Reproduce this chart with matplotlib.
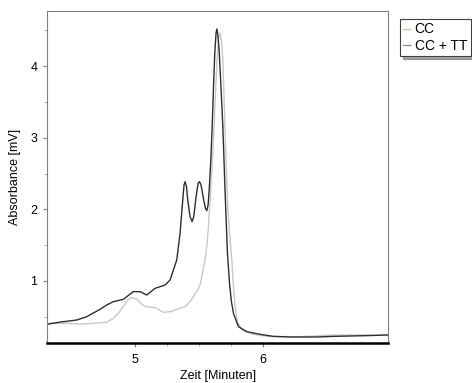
import matplotlib.pyplot as plt
from matplotlib.ticker import MultipleLocator, FixedLocator

plt.rcParams['font.family'] = ['Liberation Sans', 'DejaVu Sans']
plt.rcParams['font.size'] = 9

# CC + TT trace (time in min, absorbance in mV)
t_cctt = [4.315, 4.404, 4.547, 4.625, 4.729, 4.781, 4.833, 4.911, 4.964, 4.990,
          5.042, 5.094, 5.159, 5.237, 5.276, 5.302, 5.328, 5.354, 5.375, 5.385,
          5.393, 5.404, 5.414, 5.432, 5.448, 5.461, 5.479, 5.495, 5.505, 5.518,
          5.536, 5.552, 5.563, 5.573, 5.583, 5.594, 5.604, 5.615, 5.625, 5.635,
          5.641, 5.648, 5.659, 5.672, 5.688, 5.706, 5.724, 5.740, 5.755, 5.771,
          5.810, 5.875, 5.979, 6.083, 6.214, 6.422, 6.552, 6.813, 6.979]
a_cctt = [0.395, 0.423, 0.455, 0.502, 0.604, 0.665, 0.711, 0.744, 0.818, 0.851,
          0.851, 0.804, 0.898, 0.944, 1.014, 1.154, 1.293, 1.666, 2.131, 2.341,
          2.387, 2.318, 2.131, 1.899, 1.829, 1.899, 2.178, 2.364, 2.387, 2.341,
          2.155, 2.015, 1.982, 2.061, 2.318, 2.690, 3.109, 3.714, 4.180, 4.459,
          4.520, 4.459, 4.226, 3.761, 3.156, 2.224, 1.386, 0.967, 0.711, 0.548,
          0.362, 0.292, 0.255, 0.227, 0.218, 0.218, 0.227, 0.237, 0.246]

# CC trace
t_cc = [4.315, 4.469, 4.573, 4.677, 4.729, 4.781, 4.833, 4.872, 4.911, 4.951,
        4.977, 5.016, 5.047, 5.081, 5.159, 5.224, 5.276, 5.328, 5.393, 5.432,
        5.458, 5.490, 5.510, 5.529, 5.549, 5.568, 5.589, 5.604, 5.615, 5.628,
        5.641, 5.654, 5.667, 5.677, 5.688, 5.698, 5.708, 5.724, 5.740, 5.758,
        5.771, 5.784, 5.802, 5.836, 5.927, 6.057, 6.292, 6.500, 6.708, 6.979]
a_cc = [0.409, 0.409, 0.399, 0.409, 0.418, 0.423, 0.479, 0.548, 0.642, 0.744,
        0.772, 0.744, 0.688, 0.642, 0.628, 0.562, 0.572, 0.604, 0.642, 0.711,
        0.781, 0.874, 0.944, 1.107, 1.293, 1.573, 2.131, 2.597, 2.969, 3.528,
        4.040, 4.366, 4.459, 4.366, 4.087, 3.528, 2.923, 2.131, 1.666, 1.293,
        0.921, 0.642, 0.432, 0.316, 0.255, 0.223, 0.223, 0.241, 0.246, 0.246]

fig = plt.figure(figsize=(4.72, 3.83), dpi=100)
ax = fig.add_axes([0.0996, 0.1044, 0.7228, 0.8669])

l_cc, = ax.plot(t_cc, a_cc, color='#c8c8c8', lw=1.0, label='CC')
l_tt, = ax.plot(t_cctt, a_cctt, color='#2e2e2e', lw=1.0, label='CC + TT')

ax.set_xlim(4.315, 6.979)
ax.set_ylim(0.134, 4.77)
ax.xaxis.set_major_locator(FixedLocator([5, 6]))
ax.xaxis.set_minor_locator(FixedLocator([5.25, 5.5, 5.75]))
ax.yaxis.set_major_locator(MultipleLocator(1))
ax.yaxis.set_minor_locator(FixedLocator([0.5, 1.5, 2.5, 3.5, 4.5]))

for s in ['top', 'right', 'left']:
    ax.spines[s].set_color('#808080')
    ax.spines[s].set_linewidth(0.8)
ax.spines['bottom'].set_color('black')
ax.spines['bottom'].set_linewidth(1.8)

ax.tick_params(which='major', length=3, width=0.8, color='#808080', pad=4)
ax.tick_params(which='minor', length=2, width=0.6, color='#a0a0a0')
ax.tick_params(axis='x', which='major', pad=5)

ax.set_xlabel('Zeit [Minuten]', labelpad=3)
ax.set_ylabel('Absorbance [mV]', labelpad=7)

# legend handles in the legend's own colours
h_cc = plt.Line2D([], [], color='#c8c8a8', lw=1.0)
h_tt = plt.Line2D([], [], color='#909090', lw=1.0)
leg = fig.legend(handles=[h_cc, h_tt], labels=[l_cc.get_label(), l_tt.get_label()],
                 loc='upper left', bbox_to_anchor=(400 / 472, 1 - 19 / 383),
                 frameon=True, fancybox=False, shadow=True, fontsize=10,
                 handlelength=0.5, handletextpad=0.3, borderpad=0.25,
                 labelspacing=0.15, borderaxespad=0)
leg.get_frame().set_edgecolor('#404040')
leg.get_frame().set_linewidth(0.8)

fig.savefig('out.png', dpi=100)
